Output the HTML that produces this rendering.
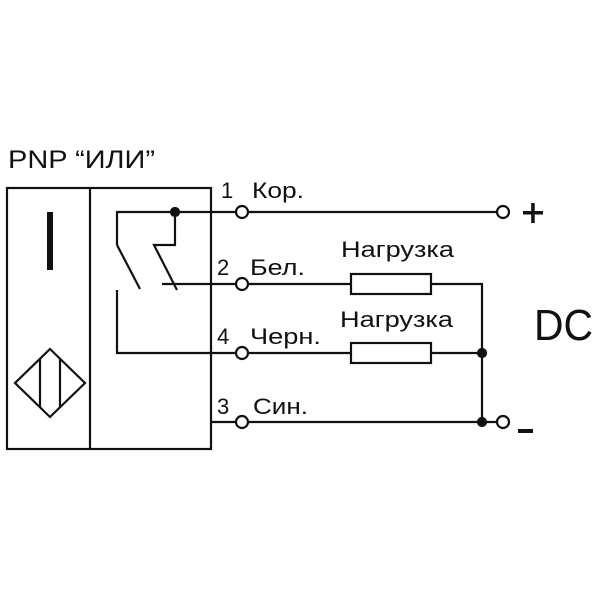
<!DOCTYPE html>
<html><head><meta charset="utf-8"><style>body{margin:0;background:#fff}svg{display:block}text{font-family:"Liberation Sans",sans-serif;fill:#111}</style></head>
<body>
<svg width="600" height="600" viewBox="0 0 600 600" stroke="#111" fill="none" stroke-width="2.2">
<text x="8" y="168" font-size="25" stroke="none" textLength="147" lengthAdjust="spacingAndGlyphs">PNP “ИЛИ”</text>
<rect x="7" y="188" width="204" height="261"/>
<line x1="90" y1="188" x2="90" y2="449"/>
<rect x="47" y="212" width="6" height="58" fill="#111" stroke="none"/>
<polygon points="50,349 85,383 50,417 15,383"/>
<line x1="40" y1="359" x2="40" y2="407"/><line x1="60" y1="359" x2="60" y2="407"/>
<polyline points="117,245 117,212 236,212"/>
<line x1="117" y1="245" x2="140" y2="289"/>
<polyline points="117,290 117,353 236,353"/>
<polyline points="175,212 175,245 154,245 177,290"/>
<line x1="162" y1="284" x2="236" y2="284"/>
<circle cx="175" cy="212" r="4" fill="#111"/>
<line x1="211" y1="422" x2="236" y2="422"/>
<line x1="248" y1="212" x2="497" y2="212"/>
<line x1="248" y1="284" x2="351" y2="284"/>
<polyline points="431,284 482,284 482,422"/>
<line x1="248" y1="353" x2="351" y2="353"/>
<line x1="431" y1="353" x2="482" y2="353"/>
<line x1="248" y1="422" x2="497" y2="422"/>
<rect x="351" y="274" width="80" height="20"/>
<rect x="351" y="343" width="80" height="20"/>
<circle cx="482" cy="353" r="4" fill="#111"/>
<circle cx="482" cy="422" r="4" fill="#111"/>
<g fill="#fff">
<circle cx="242" cy="212" r="6"/><circle cx="242" cy="284" r="6"/><circle cx="242" cy="353" r="6"/><circle cx="242" cy="422" r="6"/>
<circle cx="503" cy="212" r="6"/><circle cx="503" cy="422" r="6"/>
</g>
<g stroke="none" font-size="22">
<text x="221" y="198">1</text><text x="252" y="198" textLength="52" lengthAdjust="spacingAndGlyphs">Кор.</text>
<text x="217" y="275">2</text><text x="250" y="275" textLength="55" lengthAdjust="spacingAndGlyphs">Бел.</text>
<text x="217" y="344">4</text><text x="250" y="344" textLength="71" lengthAdjust="spacingAndGlyphs">Черн.</text>
<text x="217" y="414">3</text><text x="253" y="414" textLength="55" lengthAdjust="spacingAndGlyphs">Син.</text>
<text x="341" y="257" textLength="113" lengthAdjust="spacingAndGlyphs">Нагрузка</text>
<text x="340" y="327" textLength="113" lengthAdjust="spacingAndGlyphs">Нагрузка</text>
<text x="534" y="340" font-size="44" textLength="59" lengthAdjust="spacingAndGlyphs">DC</text>
</g>
<rect x="523" y="211" width="20" height="3.5" fill="#111" stroke="none"/>
<rect x="531.2" y="203" width="3.5" height="20" fill="#111" stroke="none"/>
<rect x="518" y="429" width="15" height="4" fill="#111" stroke="none"/>
</svg>
</body></html>
